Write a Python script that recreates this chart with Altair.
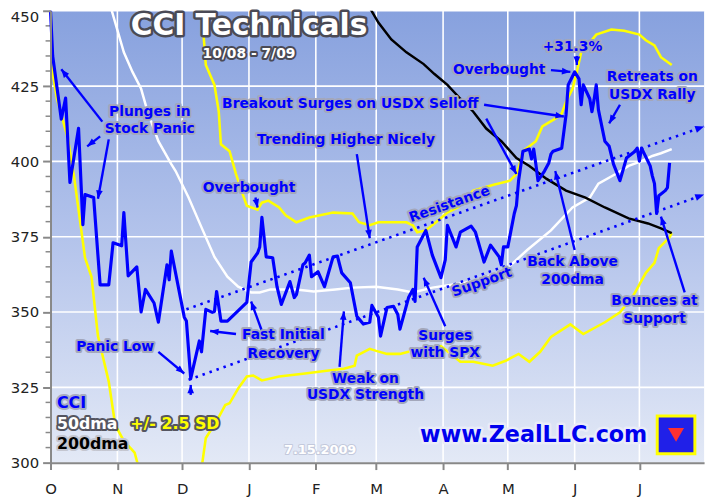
import math
import altair as alt
import pandas as pd

# ---------------- data ----------------
cci_dates = ["2008-10-01","2008-10-02","2008-10-06","2008-10-08","2008-10-10","2008-10-14","2008-10-16","2008-10-17",
             "2008-10-21","2008-10-24","2008-10-28","2008-10-30","2008-11-03","2008-11-04","2008-11-06","2008-11-10",
             "2008-11-12","2008-11-14","2008-11-18","2008-11-20","2008-11-24","2008-11-25","2008-11-26","2008-12-02",
             "2008-12-03","2008-12-05","2008-12-09","2008-12-10","2008-12-12","2008-12-15","2008-12-16","2008-12-17",
             "2008-12-19","2008-12-22","2008-12-31","2009-01-02","2009-01-05","2009-01-06","2009-01-07","2009-01-09",
             "2009-01-12","2009-01-14","2009-01-16","2009-01-20","2009-01-22","2009-01-23","2009-01-26","2009-01-27",
             "2009-01-29","2009-01-30","2009-02-02","2009-02-05","2009-02-09","2009-02-11","2009-02-13","2009-02-17",
             "2009-02-20","2009-02-23","2009-02-26","2009-02-27","2009-03-02","2009-03-03","2009-03-06","2009-03-09",
             "2009-03-11","2009-03-12","2009-03-16","2009-03-18","2009-03-19","2009-03-20","2009-03-24","2009-03-27",
             "2009-03-31","2009-04-02","2009-04-03","2009-04-07","2009-04-09","2009-04-14","2009-04-16","2009-04-20",
             "2009-04-23","2009-04-27","2009-04-28","2009-04-29","2009-05-01","2009-05-04","2009-05-05","2009-05-06",
             "2009-05-08","2009-05-11","2009-05-12","2009-05-13","2009-05-14","2009-05-15","2009-05-18","2009-05-20",
             "2009-05-21","2009-05-22","2009-05-26","2009-05-28","2009-05-29","2009-06-01","2009-06-03","2009-06-04",
             "2009-06-05","2009-06-08","2009-06-09","2009-06-10","2009-06-11","2009-06-12","2009-06-15","2009-06-17",
             "2009-06-19","2009-06-22","2009-06-25","2009-06-29","2009-06-30","2009-07-01","2009-07-02","2009-07-06",
             "2009-07-07","2009-07-08","2009-07-09","2009-07-10","2009-07-13","2009-07-14","2009-07-15"]
cci_values = [450,435,414,421,393,411,379,389,
              388,359,359,373,372,383,362,365,
              350,357.5,353,346.6,365.7,360.7,370.2,348.3,
              347.0,327.9,340.4,336.8,350.9,349.9,350.2,356.8,
              347.0,347.0,353.2,366.6,369.6,371.6,381.4,368.3,
              368.0,358.4,352.5,360.1,354.8,355.8,365.7,366.3,
              368.9,361.7,363.4,358.4,368.3,368.6,363.0,359.7,
              348.6,346.0,346.6,352.2,348.3,342.0,351.5,351.9,
              349.2,344.3,354.8,357.5,353.5,371.6,377.1,368.9,
              361.4,367.3,378.8,371.6,376.5,378.5,376.5,366.6,
              372.2,368.3,365.7,371.6,371.6,382.7,385.3,393.6,
              403.4,404.1,400.8,404.1,399.1,393.6,396.8,399.5,
              402.4,403.4,404.4,415.5,425.4,429.7,427.4,418.8,
              425.4,420.8,416.5,420.5,425.4,417.2,406.7,405.0,
              399.1,393.6,401.1,403.4,404.4,400.1,404.4,398.5,
              395.2,392.6,382.7,388.6,390.3,391.3,399.5]

ma50_dates = ["2008-10-29","2008-10-31","2008-11-04","2008-11-08","2008-11-12","2008-11-15","2008-11-20","2008-11-26",
              "2008-11-28","2008-12-04","2008-12-10","2008-12-16","2008-12-22","2008-12-27","2009-01-02","2009-01-06",
              "2009-01-11","2009-01-23","2009-01-31","2009-02-10","2009-02-18","2009-03-01","2009-03-11","2009-03-18",
              "2009-03-27","2009-04-05","2009-04-15","2009-04-30","2009-05-10","2009-05-21","2009-05-31","2009-06-08",
              "2009-06-12","2009-06-20","2009-06-26","2009-07-02","2009-07-07","2009-07-11","2009-07-16"]
ma50_values = [451,446.1,436.2,429.7,424.1,416.5,406.7,399.1,
               396.8,388.0,378.1,368.3,361.7,358.4,356.5,356.5,
               357.5,357.5,356.8,357.5,358.1,358.4,357.5,356.5,
               358.1,359.1,360.1,364.0,370.6,377.1,384.7,388.0,
               392.6,395.8,398.5,400.1,401.8,402.7,404.1]

ma200_dates = ["2009-02-26","2009-03-02","2009-03-08","2009-03-15","2009-03-23","2009-03-28","2009-04-03","2009-04-09",
               "2009-04-15","2009-04-21","2009-04-28","2009-05-05","2009-05-11","2009-05-19","2009-05-28","2009-06-06",
               "2009-06-15","2009-06-26","2009-07-05","2009-07-11","2009-07-16"]
ma200_values = [451,446.1,440.5,436.2,432.3,429.0,425.4,420.8,
                416.5,410.9,406.7,401.1,398.5,394.2,390.3,388.0,
                384.7,381.1,379.4,377.8,376.2]

upper_dates = ["2008-12-10","2008-12-12","2008-12-16","2008-12-18","2008-12-19","2008-12-23","2008-12-26","2008-12-29",
               "2008-12-31","2009-01-05","2009-01-07","2009-01-10","2009-01-15","2009-01-18","2009-01-23","2009-01-29",
               "2009-02-09","2009-02-18","2009-02-21","2009-02-26","2009-03-02","2009-03-15","2009-03-18","2009-03-20",
               "2009-03-24","2009-03-29","2009-04-03","2009-04-08","2009-04-15","2009-04-24","2009-05-02","2009-05-05",
               "2009-05-06","2009-05-08","2009-05-14","2009-05-17","2009-05-23","2009-05-26","2009-05-28","2009-05-31",
               "2009-06-02","2009-06-04","2009-06-07","2009-06-11","2009-06-18","2009-06-24","2009-07-01","2009-07-04",
               "2009-07-08","2009-07-11","2009-07-16"]
upper_values = [451,432.0,425.4,416.5,405.7,403.4,395.8,389.3,
                385.3,384.0,386.3,387.0,384.7,382.1,379.8,381.4,
                383.0,382.7,379.8,378.8,379.8,379.8,378.8,376.5,
                377.1,380.0,383.0,384.8,390.3,392.2,393.6,395.8,
                397.8,403.4,406.7,411.6,414.2,415.9,419.8,424.1,
                429.7,436.2,438.5,442.1,443.8,443.4,442.1,440.2,
                438.5,434.6,432.0]

lower_dates = ["2008-10-01","2008-10-04","2008-10-09","2008-10-12","2008-10-17","2008-10-20","2008-10-23","2008-10-28",
               "2008-10-31","2008-11-04","2008-11-09","2008-11-11",
               "2008-12-10","2008-12-12","2008-12-17","2008-12-21","2008-12-23","2008-12-27","2008-12-31","2009-01-03",
               "2009-01-07","2009-01-15","2009-01-27","2009-02-06","2009-02-14","2009-02-19","2009-02-20","2009-02-26",
               "2009-03-01","2009-03-06","2009-03-12","2009-03-16","2009-03-22","2009-03-31","2009-04-09","2009-04-15",
               "2009-04-24","2009-04-30","2009-05-06","2009-05-11","2009-05-16","2009-05-21","2009-05-30","2009-06-05",
               "2009-06-15","2009-06-22","2009-06-28","2009-07-04","2009-07-08","2009-07-10","2009-07-15","2009-07-16"]
lower_values = [433.6,420.8,407.7,394.5,368.0,361.7,342.0,326.9,
                312.5,307.2,303.3,298.0,
                298.0,308.2,313.8,319.1,319.7,324.6,328.6,328.9,
                327.3,328.6,329.6,330.5,331.2,332.2,335.5,337.8,
                337.1,336.1,336.1,336.8,337.8,338.7,333.5,333.5,
                332.2,333.8,336.1,333.5,336.8,341.7,345.9,342.7,
                346.6,349.9,355.2,363.0,366.3,371.2,374.8,376.2]
lower_segment = [0] * 12 + [1] * 40

resist_dates = ["2008-12-03", "2009-07-31"]
resist_values = [350.9, 411.6]
support_dates = ["2008-12-04", "2009-07-31"]
support_values = [327.5, 389.0]

month_ticks = ["2008-10-01","2008-11-01","2008-12-01","2009-01-01","2009-02-01",
               "2009-03-01","2009-04-01","2009-05-01","2009-06-01","2009-07-01"]
y_ticks = [300, 325, 350, 375, 400, 425, 450]
y_minor = [v for v in range(305, 450, 5) if v % 25]

note_text = ["Plunges in","Stock Panic","Breakout Surges on USDX Selloff","Trending Higher Nicely",
             "Overbought","Overbought","+31.3%","Retreats on","USDX Rally","Back Above","200dma",
             "Bounces at","Support","Panic Low","Fast Initial","Recovery","Weak on","USDX Strength",
             "Surges","with SPX"]
note_dates = ["2008-11-16","2008-11-16","2009-02-17","2009-02-15",
              "2009-01-01","2009-04-27","2009-05-31","2009-07-07","2009-07-07","2009-05-31","2009-05-31",
              "2009-07-08","2009-07-08","2008-10-31","2009-01-17","2009-01-17","2009-02-24","2009-02-24",
              "2009-04-02","2009-04-02"]
note_values = [416.5,410.6,418.9,407.0,
               391.3,430.3,437.9,428.0,422.1,366.6,360.7,
               353.5,347.6,338.4,342.4,336.1,327.9,322.3,
               342.0,336.4]

line_labels = ["Resistance", "Support"]
line_label_dates = ["2009-04-04", "2009-04-19"]
line_label_values = [385.7, 359.8]

arrow_from_dates = ["2008-10-25","2008-10-24","2008-10-28","2009-04-20","2009-04-21","2009-02-20","2009-01-04",
                    "2009-05-21","2009-06-02","2009-06-22","2009-06-01","2009-07-22","2008-11-20","2008-12-26",
                    "2009-01-07","2009-02-12","2009-04-02","2008-12-05"]
arrow_from_values = [413.2,408.3,407.3,418.8,414.2,402.4,388.0,
                     430.3,435.0,418.8,370.6,356.5,336.8,342.7,
                     343.7,331.8,345.3,322.5]
arrow_to_dates = ["2008-10-06","2008-10-18","2008-10-23","2009-05-27","2009-05-05","2009-02-26","2009-01-05",
                  "2009-05-30","2009-06-02","2009-06-17","2009-05-23","2009-07-11","2008-12-02","2008-12-14",
                  "2009-01-02","2009-02-14","2009-03-23","2008-12-05"]
arrow_to_values = [430.6,405.0,387.6,414.9,395.8,374.5,384.7,
                   429.7,432.0,412.6,396.8,381.7,329.6,343.7,
                   353.5,350.2,361.4,325.8]

legend_text = ["CCI", "50dma", "+/- 2.5 SD", "200dma"]
legend_dates = ["2008-10-04", "2008-10-04", "2008-11-07", "2008-10-04"]
legend_values = [319.7, 312.8, 312.8, 306.3]

# ---------------- styling ----------------
FONT = "DejaVu Sans"
BLUE = "#0000ff"
W, H = 661, 457
X0 = pd.Timestamp("2008-10-01")
X1 = pd.Timestamp("2009-07-31")
PX_DAY = W / (X1 - X0).days
PX_UNIT = H / 150.0

xscale = alt.Scale(type="utc", domain=[alt.DateTime(year=2008, month=10, date=1, utc=True),
                                       alt.DateTime(year=2009, month=7, date=31, utc=True)])
yscale = alt.Scale(domain=[300, 450], nice=False, zero=False)

XAXIS = alt.Axis(values=[alt.DateTime(year=int(s[:4]), month=int(s[5:7]), date=1, utc=True) for s in month_ticks],
                 labelExpr="substring(utcFormat(datum.value, '%b'), 0, 1)", title=None, labelFlush=False,
                 labelFont=FONT, labelFontSize=15, labelColor="#222", tickSize=7, tickColor="#888",
                 tickWidth=2, domainColor="#888", domainWidth=2, labelPadding=12, grid=False, zindex=1)
YAXIS = alt.Axis(values=y_ticks, labelFont=FONT, labelFontSize=15, labelColor="#222", tickSize=8, title=None,
                 tickColor="#888", tickWidth=2, domainColor="#888", domainWidth=2, labelPadding=4,
                 grid=False, zindex=1, labelFlush=False,
                 labelOffset={"condition": {"test": "datum.value >= 450", "value": 6}, "value": 0})


def xe(f="date"):
    return alt.X(f"{f}:T", scale=xscale, axis=XAXIS, title=None)


def ye(f="value"):
    return alt.Y(f"{f}:Q", scale=yscale, axis=YAXIS, title=None)


def heading(d1, v1, d2, v2):
    dx = (pd.Timestamp(d2) - pd.Timestamp(d1)).days * PX_DAY
    dy = -(v2 - v1) * PX_UNIT
    return math.degrees(math.atan2(dx, -dy)) % 360


def df_line(dates, values, **extra):
    d = pd.DataFrame({"date": dates, "value": values})
    for k, v in extra.items():
        d[k] = v
    return d


layers = []

# background gradient
bg = pd.DataFrame({"date": [month_ticks[0]], "date2": ["2009-07-31"], "value": [300], "value2": [450]})
layers.append(alt.Chart(bg).mark_rect(
    fill=alt.Gradient(gradient="linear", x1=0, x2=0, y1=0, y2=1,
                      stops=[alt.GradientStop(color="#87a1de", offset=0),
                             alt.GradientStop(color="#b3c3eb", offset=0.5),
                             alt.GradientStop(color="#e3e9f6", offset=1)])
).encode(x=xe(), x2="date2:T", y=ye(), y2="value2:Q"))

# grid
layers.append(alt.Chart(pd.DataFrame({"date": month_ticks[1:]})).mark_rule(color="white", strokeWidth=1.6)
              .encode(x=xe()))
layers.append(alt.Chart(pd.DataFrame({"value": y_ticks[1:]})).mark_rule(color="white", strokeWidth=1.6)
              .encode(y=ye()))

# minor ticks on the y axis
layers.append(alt.Chart(pd.DataFrame({"value": y_minor})).mark_rule(color="#888", strokeWidth=1.5)
              .encode(y=ye(), x=alt.value(-5), x2=alt.value(1)))

# moving averages and bands
layers.append(alt.Chart(df_line(ma50_dates, ma50_values)).mark_line(color="white", strokeWidth=2.5, clip=True)
              .encode(x=xe(), y=ye()))
layers.append(alt.Chart(df_line(upper_dates, upper_values)).mark_line(color="#ffff00", strokeWidth=2.6, clip=True)
              .encode(x=xe(), y=ye()))
layers.append(alt.Chart(df_line(lower_dates, lower_values, seg=lower_segment))
              .mark_line(color="#ffff00", strokeWidth=2.6, clip=True)
              .encode(x=xe(), y=ye(), detail="seg:N"))
layers.append(alt.Chart(df_line(ma200_dates, ma200_values)).mark_line(color="black", strokeWidth=2.5, clip=True)
              .encode(x=xe(), y=ye()))

# trend channel (dotted)
HEAD = "M0,0L0.75,1.9L-0.75,1.9Z"
for dts, vals in [(resist_dates, resist_values), (support_dates, support_values)]:
    layers.append(alt.Chart(df_line(dts, vals)).mark_line(color=BLUE, strokeWidth=2.6, strokeDash=[2.5, 5])
                  .encode(x=xe(), y=ye()))
    ang = heading(dts[0], vals[0], dts[1], vals[1])
    layers.append(alt.Chart(pd.DataFrame({"date": [dts[1]], "value": [vals[1]], "angle": [ang]}))
                  .mark_point(shape=HEAD, filled=True, size=90, color=BLUE, opacity=1)
                  .encode(x=xe(), y=ye(), angle=alt.Angle("angle:Q", scale=None)))

# CCI
layers.append(alt.Chart(df_line(cci_dates, cci_values)).mark_line(color=BLUE, strokeWidth=3.2, strokeJoin="round")
              .encode(x=xe(), y=ye()))

# annotation arrows
arr = pd.DataFrame({"d1": arrow_from_dates, "v1": arrow_from_values, "d2": arrow_to_dates, "v2": arrow_to_values})
arr["angle"] = [heading(a, b, c, d) for a, b, c, d in zip(arr.d1, arr.v1, arr.d2, arr.v2)]
layers.append(alt.Chart(arr).mark_rule(color=BLUE, strokeWidth=2.4)
              .encode(x=xe("d1"), y=ye("v1"), x2="d2:T", y2="v2:Q"))
layers.append(alt.Chart(arr).mark_point(shape=HEAD, filled=True, size=80, color=BLUE, opacity=1)
              .encode(x=xe("d2"), y=ye("v2"), angle=alt.Angle("angle:Q", scale=None)))


def text_layers(df, fill, halo, size, halo_w=4.0, align="center", angle=None, weight="bold", opacity=1.0):
    base = alt.Chart(df).encode(x=xe(), y=ye(), text="text:N")
    kw = dict(font=FONT, fontSize=size, fontWeight=weight, align=align, baseline="middle")
    if angle is not None:
        kw["angle"] = angle
    out = []
    if halo:
        out.append(base.mark_text(stroke=halo, strokeWidth=halo_w, strokeJoin="round", fill=halo, **kw))
    out.append(base.mark_text(fill=fill, opacity=opacity, **kw))
    return out


notes = pd.DataFrame({"date": note_dates, "value": note_values, "text": note_text})
layers += text_layers(notes, BLUE, "#a3a7bb", 14)

ch_angle = heading(resist_dates[0], resist_values[0], resist_dates[1], resist_values[1]) - 90
ll = pd.DataFrame({"date": line_label_dates, "value": line_label_values, "text": line_labels})
layers += text_layers(ll, BLUE, "#a3a7bb", 14, angle=ch_angle % 360)

# title
layers += text_layers(pd.DataFrame({"date": ["2009-01-01"], "value": [445.0], "text": ["CCI Technicals"]}),
                      "white", "#4a4a55", 30, halo_w=5)
layers += text_layers(pd.DataFrame({"date": ["2009-01-01"], "value": [435.6], "text": ["10/08 - 7/09"]}),
                      "white", "#4a4a55", 14, halo_w=4)

# legend block
leg_colors = [BLUE, "white", "#ffff00", "black"]
leg_halos = ["#a8acc0", "#555560", "#555560", "#c4c6d0"]
for t, d, v, c, h in zip(legend_text, legend_dates, legend_values, leg_colors, leg_halos):
    layers += text_layers(pd.DataFrame({"date": [d], "value": [v], "text": [t]}), c, h, 16, align="left")

# date stamp and website
layers += text_layers(pd.DataFrame({"date": ["2009-02-03"], "value": [304.3], "text": ["7.15.2009"]}),
                      "#ffffff", "#c3c9dc", 13, halo_w=2)
layers += text_layers(pd.DataFrame({"date": ["2009-05-13"], "value": [309.0], "text": ["www.ZealLLC.com"]}),
                      "#0000ee", "#e9ecf8", 22.5, halo_w=5)

# logo
logo = pd.DataFrame({"date": ["2009-07-18"], "value": [309.2]})
layers.append(alt.Chart(logo).mark_square(size=1450, fill="#2020e8", stroke="#ffff00", strokeWidth=3, opacity=1)
              .encode(x=xe(), y=ye()))
layers.append(alt.Chart(logo).mark_point(shape="triangle-down", size=260, filled=True, color="#ff3030", opacity=1)
              .encode(x=xe(), y=ye()))

chart = alt.layer(*layers).properties(
    width=W, height=H, autosize="none",
    padding={"left": 43, "top": 0, "right": 8, "bottom": 38},
).configure_view(stroke=None)

chart.save("out.html", embed_options={"renderer": "svg", "actions": False})
